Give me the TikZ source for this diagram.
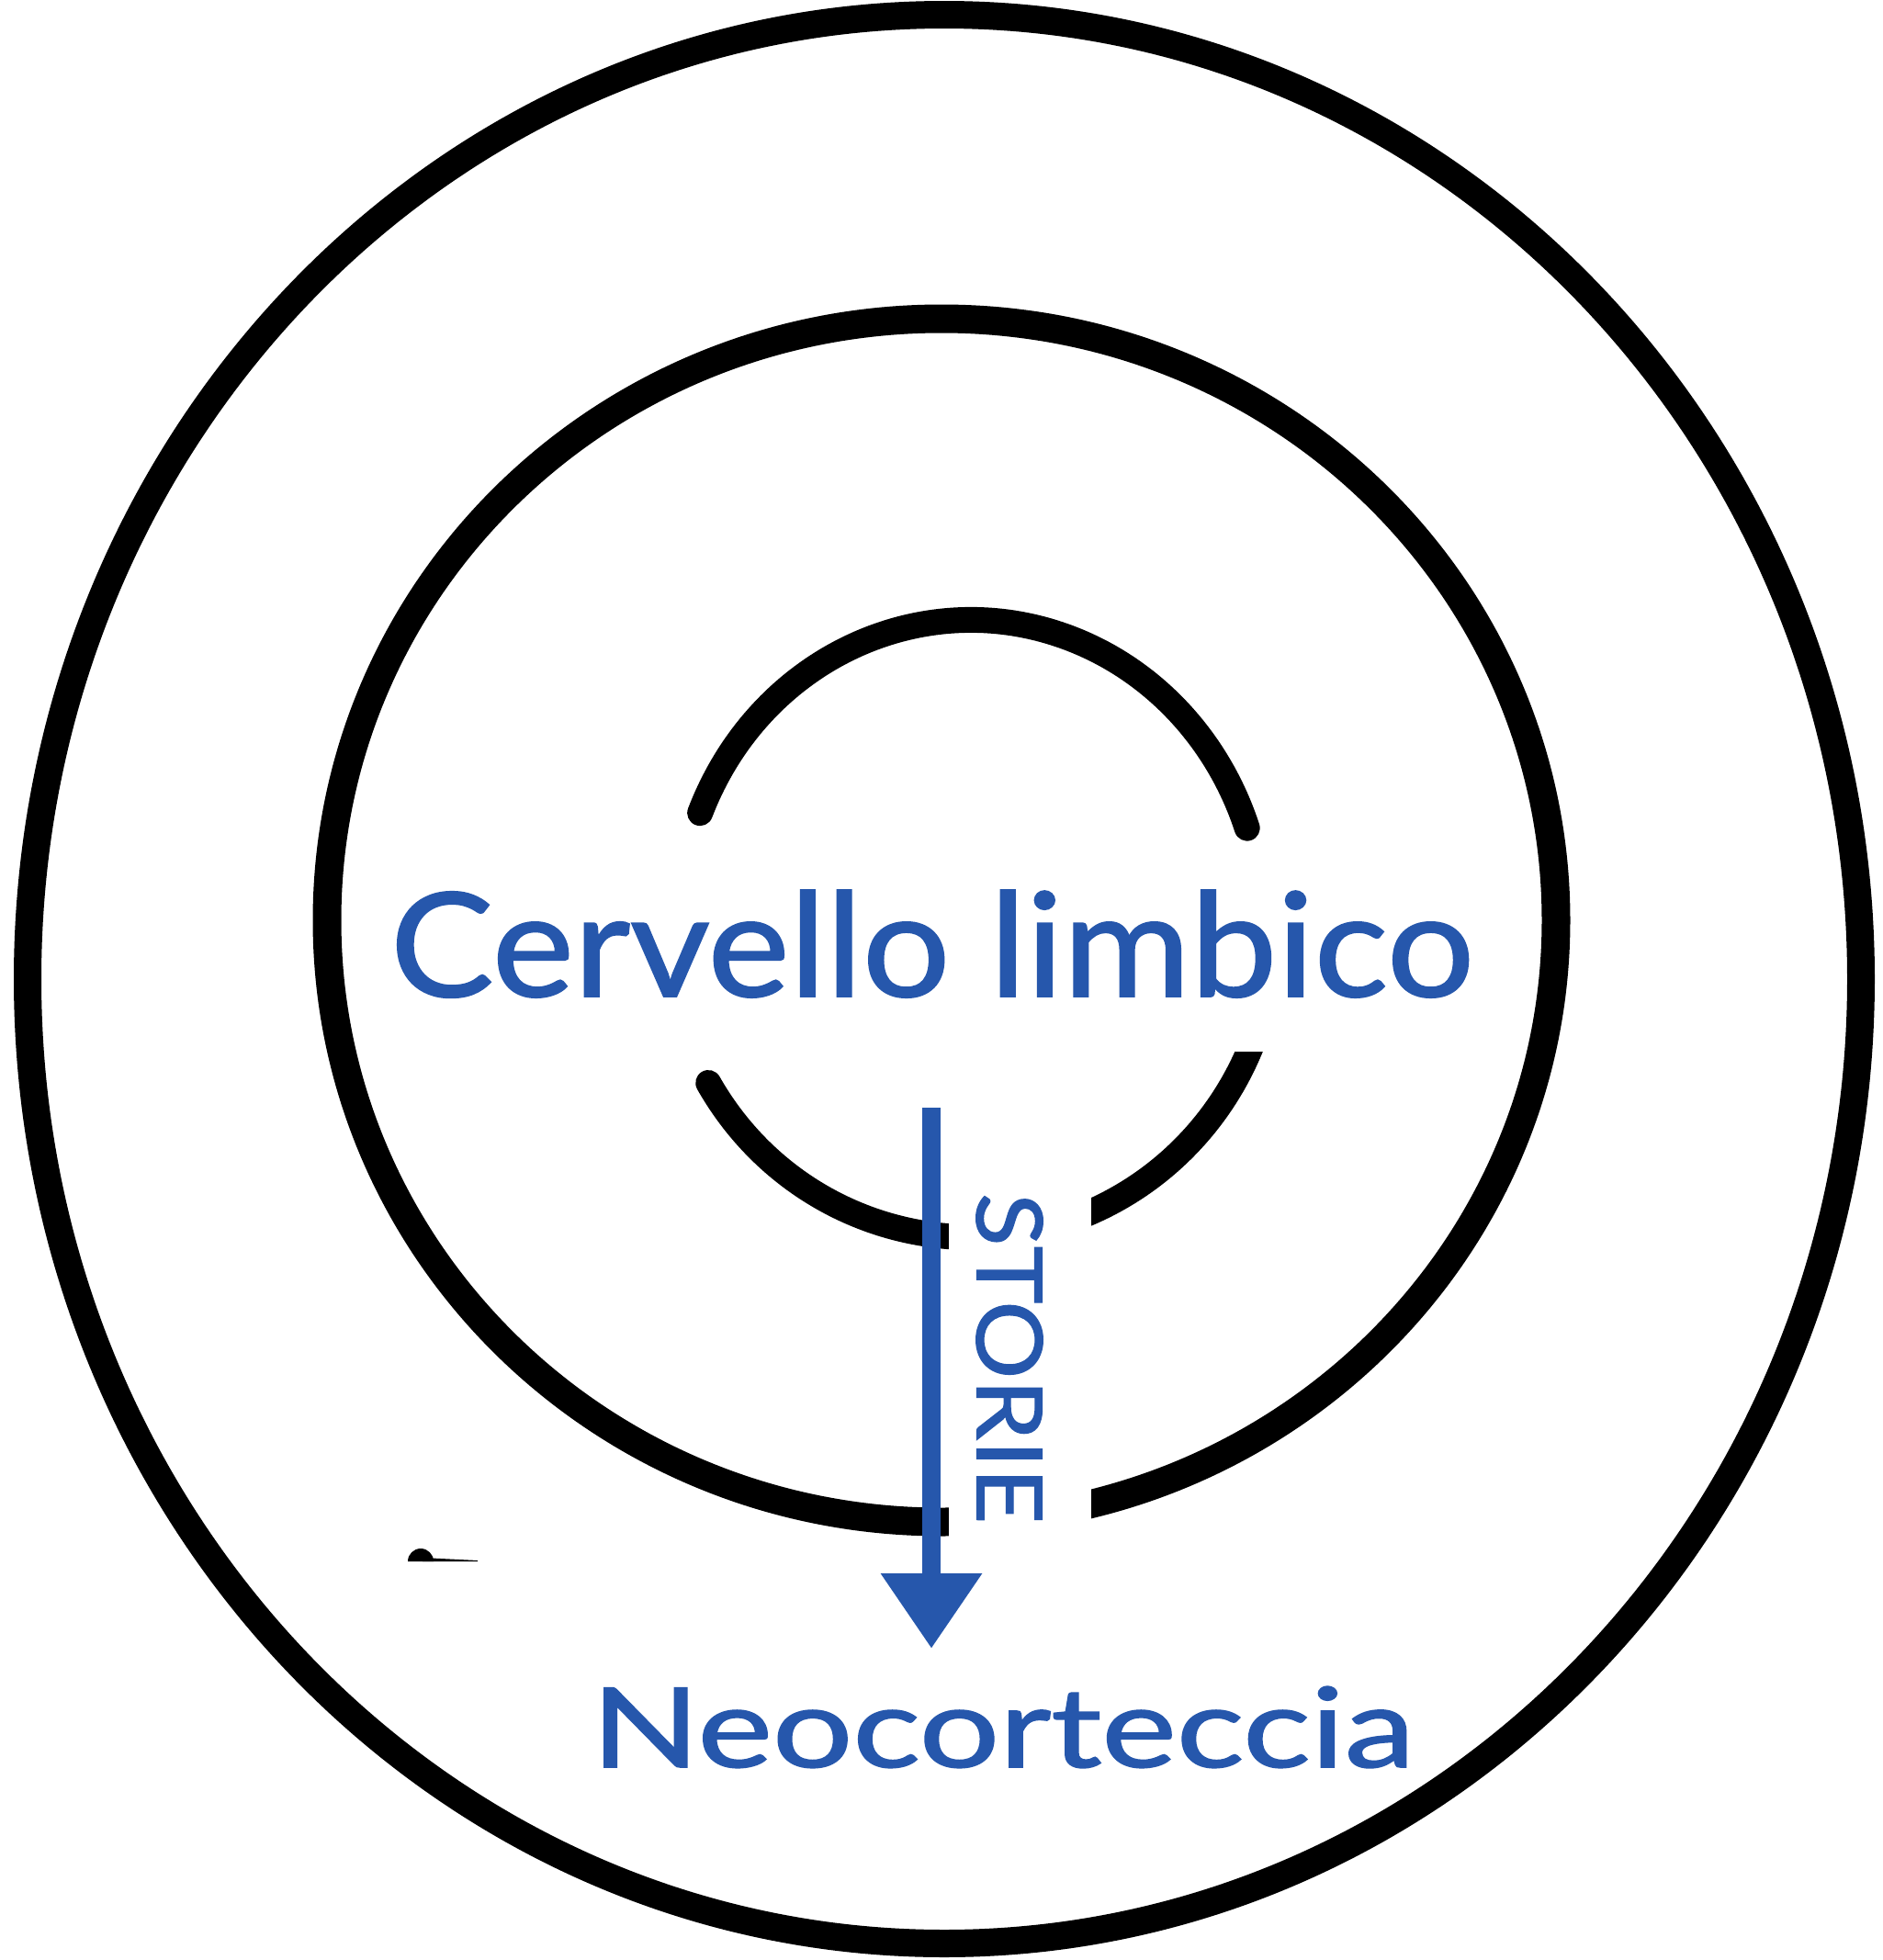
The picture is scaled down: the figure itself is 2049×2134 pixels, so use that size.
\documentclass[tikz,border=0pt]{standalone}
\usepackage{fontspec}
\setmainfont{Lato}
\newfontfamily\inkfont[FakeBold=1.2]{Lato}
\usetikzlibrary{arrows.meta}
\definecolor{inkblue}{RGB}{38,87,172}
\tikzset{
  ring/.style={line width=3mm, line cap=round, line join=round, draw=black},
  inktext/.style={inner sep=0pt, text=inkblue, font=\inkfont},
  storiearrow/.style={draw=inkblue, fill=inkblue, line width=2mm, -{Triangle[length=8.2mm,width=10.5mm]}},
  whiteout/.style={fill=white, draw=none},
}
\begin{document}
\begin{tikzpicture}[x=0.1mm,y=-0.1mm]
\useasboundingbox (0,0) rectangle (2049,2134);
\fill[white] (0,0) rectangle (2049,2134);
% outer and middle rings
\draw[ring] (1028,1066) ellipse [x radius=99.8mm, y radius=105mm];
\draw[ring, line width=3.1mm] (1025,1002) ellipse [x radius=66.9mm, y radius=65.5mm];
% inner ring: upper and lower arcs
\draw[ring, line width=2.8mm] ([shift={(158:31.8mm and 33.6mm)}]1057,1011) arc[start angle=158, end angle=19, x radius=31.8mm, y radius=33.6mm];
\draw[ring, line width=2.8mm] ([shift={(210:33mm and 33.6mm)}]1057,1011) arc[start angle=210, end angle=342, x radius=33mm, y radius=33.6mm];
% remnant mark
\fill[black] (444,1700) arc[start angle=180, end angle=0, radius=1.4mm] -- cycle;
\fill[black] (460,1696) -- (520,1699) -- (520,1700) -- (460,1700) -- cycle;
% white boxes behind the labels
\path[whiteout] (446,936) rectangle (1612,1145);
\path[whiteout] (1033,1285) rectangle (1188,1688);
% labels
\node[inktext, anchor=base] (limbic) at (1015,1085) {\resizebox{118mm}{11.6mm}{\fontsize{36}{40}\selectfont Cervello limbico}};
\node[inktext, anchor=base] (neo) at (1092,1924) {\resizebox{89.6mm}{8.8mm}{\fontsize{36}{40}\selectfont Neocorteccia}};
\node[inktext, rotate=-90] (storie) at (1099,1479) {\resizebox{36mm}{7.2mm}{\fontsize{36}{40}\selectfont STORIE}};
% arrow
\coordinate (astart) at (1014,1206);
\coordinate (aend) at (1014,1795);
\draw[storiearrow] (astart) -- (aend);
\end{tikzpicture}
\end{document}
